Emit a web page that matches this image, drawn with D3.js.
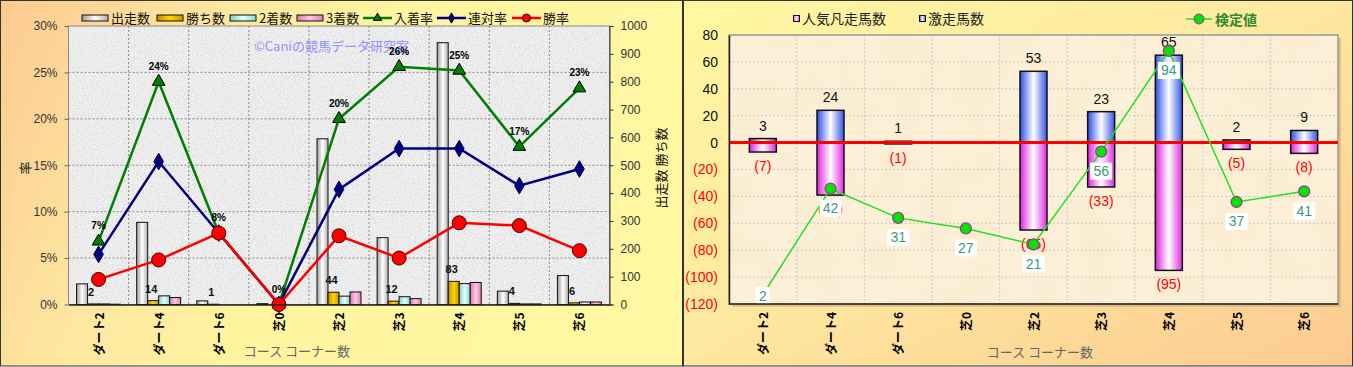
<!DOCTYPE html>
<html>
<head>
<meta charset="utf-8">
<script src="https://cdn.jsdelivr.net/npm/d3@7"></script>
<style>
  body { margin:0; background:#fff; }
  svg text { font-family: "Liberation Sans", "Noto Sans CJK JP", sans-serif; }
  .jp { font-family: "Noto Sans CJK JP", sans-serif; }
</style>
</head>
<body>
<script>
// コース別（コーナー数）成績
var categories = ["ダート2","ダート4","ダート6","芝0","芝2","芝3","芝4","芝5","芝6"];
var runners  = [74, 295, 13, 3, 595, 240, 940, 48, 104];   // 出走数
var wins     = [2, 14, 1, 0, 44, 12, 83, 4, 6];             // 勝ち数
var seconds  = [2, 31, 0, 0, 30, 28, 75, 2, 9];             // 2着数
var thirds   = [1, 25, 0, 0, 45, 21, 79, 2, 9];             // 3着数
var placeRate    = [6.8, 24.0, 7.7, 0, 20.0, 25.6, 25.2, 17.0, 23.3]; // 入着率
var quinellaRate = [5.4, 15.4, 7.7, 0, 12.4, 16.8, 16.8, 12.8, 14.6]; // 連対率
var winRate      = [2.7, 4.8, 7.7, 0, 7.4, 5.0, 8.8, 8.5, 5.8];       // 勝率
var rateTicks  = [0, 5, 10, 15, 20, 25, 30];
var countTicks = [0, 100, 200, 300, 400, 500, 600, 700, 800, 900, 1000];

// 右のグラフ
var upsetCount = [3, 24, 1, 0, 53, 23, 65, 2, 9];    // 激走馬数
var flopCount  = [7, 39, 1, 0, 65, 33, 95, 5, 8];    // 人気凡走馬数
var testValue  = [2, 42, 31, 27, 21, 56, 94, 37, 41]; // 検定値
var diffTicks  = [80, 60, 40, 20, 0, -20, -40, -60, -80, -100, -120];

var W = 1353, H = 367;
var svg = d3.select("body").append("svg").attr("width", W).attr("height", H);
var defs = svg.append("defs");

function lin(id, x2, y2, stops){
  var g = defs.append("linearGradient").attr("id", id)
    .attr("x1", 0).attr("y1", 0).attr("x2", x2).attr("y2", y2);
  stops.forEach(function(s){ g.append("stop").attr("offset", s[0]).attr("stop-color", s[1]); });
}
lin("bgL", 1, 0.25, [[0, "#fcca90"], [0.3, "#fee6a0"], [0.55, "#fff4a0"], [1, "#fff7a2"]]);
lin("bgR", 1, 1, [[0, "#fff8a2"], [0.45, "#fee9a0"], [1, "#fcca90"]]);
lin("gRun",   1, 0, [[0, "#9a9a9a"], [0.5, "#ffffff"], [1, "#b0b0b0"]]);
lin("gWin",   1, 0, [[0, "#c08a00"], [0.5, "#ffd800"], [1, "#c89400"]]);
lin("gSec",   1, 0, [[0, "#80cccc"], [0.5, "#e4ffff"], [1, "#8cd4d4"]]);
lin("gThi",   1, 0, [[0, "#dd77aa"], [0.5, "#ffc8e4"], [1, "#e080b4"]]);
lin("gUp",    1, 0, [[0, "#2d4fe8"], [0.5, "#ffffff"], [1, "#3555e8"]]);
lin("gDown",  1, 0, [[0, "#e020e0"], [0.5, "#ffffff"], [1, "#e028e0"]]);

// 御影石風テクスチャ
var fg = defs.append("filter").attr("id", "granite").attr("x", 0).attr("y", 0).attr("width", 1).attr("height", 1);
fg.append("feTurbulence").attr("type", "fractalNoise").attr("baseFrequency", 0.9).attr("numOctaves", 3).attr("seed", 4);
fg.append("feColorMatrix").attr("type", "matrix")
  .attr("values", "0.9 0 0 0 0.38  0.9 0 0 0 0.38  0.9 0 0 0 0.38  0 0 0 0 0.45");
// 羊皮紙風
var fp = defs.append("filter").attr("id", "parch").attr("x", 0).attr("y", 0).attr("width", 1).attr("height", 1);
fp.append("feTurbulence").attr("type", "fractalNoise").attr("baseFrequency", 0.025).attr("numOctaves", 4).attr("seed", 7);
fp.append("feColorMatrix").attr("type", "matrix")
  .attr("values", "0 0 0 0 0.93  0 0 0 0 0.80  0 0 0 0 0.58  1.2 0 0 0 -0.45");

// パネル背景
svg.append("rect").attr("x", 0.5).attr("y", 0.5).attr("width", 682).attr("height", 365.5)
  .attr("fill", "url(#bgL)").attr("stroke", "#333");
svg.append("rect").attr("x", 683.5).attr("y", 0.5).attr("width", 669).attr("height", 365.5)
  .attr("fill", "url(#bgR)").attr("stroke", "#333");

// ================= 左のグラフ =================
var L = {x0: 68.5, x1: 609.5, y0: 26, y1: 304.5};
var xL = d3.scaleBand().domain(categories).range([L.x0, L.x1]);
var yL = d3.scaleLinear().domain([0, 30]).range([L.y1, L.y0]);
var yL2 = d3.scaleLinear().domain([0, 1000]).range([L.y1, L.y0]);

var gl = svg.append("g");
gl.append("rect").attr("x", L.x0).attr("y", L.y0).attr("width", L.x1 - L.x0).attr("height", L.y1 - L.y0).attr("fill", "#ececec");
gl.append("rect").attr("x", L.x0).attr("y", L.y0).attr("width", L.x1 - L.x0).attr("height", L.y1 - L.y0).attr("filter", "url(#granite)");

// グリッド
gl.selectAll(".hg").data(rateTicks.slice(1, -1)).enter().append("line")
  .attr("x1", L.x0).attr("x2", L.x1).attr("y1", function(d){ return yL(d); }).attr("y2", function(d){ return yL(d); })
  .attr("stroke", "#8a8a8a").attr("stroke-dasharray", "2,2");
gl.selectAll(".vg").data(categories.slice(1)).enter().append("line")
  .attr("x1", function(d){ return xL(d); }).attr("x2", function(d){ return xL(d); })
  .attr("y1", L.y0).attr("y2", L.y1)
  .attr("stroke", "#8a8a8a").attr("stroke-dasharray", "2,2");
gl.append("rect").attr("x", L.x0).attr("y", L.y0).attr("width", L.x1 - L.x0).attr("height", L.y1 - L.y0)
  .attr("fill", "none").attr("stroke", "#888");

gl.append("text").attr("class", "jp").attr("x", 254).attr("y", 51).attr("font-size", 13)
  .attr("fill", "#9090ff").text("©Caniの競馬データ研究室");

// 棒
var barKeys = ["run", "win", "sec", "thi"];
var barData = [runners, wins, seconds, thirds];
var barFill = ["url(#gRun)", "url(#gWin)", "url(#gSec)", "url(#gThi)"];
var xSub = d3.scaleBand().domain(barKeys).range([-22, 22]);
barKeys.forEach(function(k, j){
  gl.selectAll(".b" + k).data(barData[j]).enter().append("rect")
    .attr("x", function(d, i){ return xL(categories[i]) + xL.bandwidth() / 2 + xSub(k); })
    .attr("y", function(d){ return yL2(d); })
    .attr("width", xSub.bandwidth())
    .attr("height", function(d){ return L.y1 - yL2(d); })
    .attr("fill", barFill[j]).attr("stroke", "#111").attr("stroke-width", 1);
});
// 勝ち数ラベル
wins.forEach(function(d, i){
  if (d <= 0) return;
  gl.append("text")
    .attr("x", xL(categories[i]) + xL.bandwidth() / 2 + xSub("win") + xSub.bandwidth() / 2 - 2)
    .attr("y", yL2(d) - 8)
    .attr("text-anchor", "middle").attr("font-size", 11).attr("font-weight", "bold").attr("fill", "#111")
    .text(d);
});

// 折れ線
function cx(i){ return xL(categories[i]) + xL.bandwidth() / 2; }
var lineL = d3.line().x(function(d, i){ return cx(i); }).y(function(d){ return yL(d); });
gl.append("path").attr("d", lineL(placeRate)).attr("fill", "none").attr("stroke", "#008000").attr("stroke-width", 2.5);
gl.append("path").attr("d", lineL(quinellaRate)).attr("fill", "none").attr("stroke", "#000080").attr("stroke-width", 2.5);
gl.append("path").attr("d", lineL(winRate)).attr("fill", "none").attr("stroke", "#ff0000").attr("stroke-width", 2.5);

gl.selectAll(".tri").data(placeRate).enter().append("path")
  .attr("d", d3.symbol().type(d3.symbolTriangle).size(70))
  .attr("transform", function(d, i){ return "translate(" + cx(i) + "," + yL(d) + ")"; })
  .attr("fill", "#008000").attr("stroke", "#000").attr("stroke-width", 1);
gl.selectAll(".dia").data(quinellaRate).enter().append("path")
  .attr("d", d3.symbol().type(d3.symbolDiamond).size(80))
  .attr("transform", function(d, i){ return "translate(" + cx(i) + "," + yL(d) + ")"; })
  .attr("fill", "#000080").attr("stroke", "#000040").attr("stroke-width", 1);
gl.selectAll(".cir").data(winRate).enter().append("circle")
  .attr("cx", function(d, i){ return cx(i); }).attr("cy", function(d){ return yL(d); }).attr("r", 7)
  .attr("fill", "#ff0000").attr("stroke", "#400").attr("stroke-width", 1);
gl.selectAll(".pl").data(placeRate).enter().append("text")
  .attr("x", function(d, i){ return cx(i); }).attr("y", function(d){ return yL(d) - 12; })
  .attr("text-anchor", "middle").attr("font-size", 10).attr("font-weight", "bold").attr("fill", "#000")
  .text(function(d){ return Math.round(d) + "%"; });

// 軸
var axL = gl.append("g").attr("transform", "translate(" + L.x0 + ",0)")
  .call(d3.axisLeft(yL).tickValues(rateTicks).tickFormat(function(d){ return d + "%"; }).tickSize(4).tickPadding(7));
axL.select(".domain").remove();
axL.selectAll("line").attr("stroke", "#666");
axL.selectAll("text").attr("font-size", 12).attr("fill", "#333");

var axR = gl.append("g").attr("transform", "translate(" + L.x1 + ",0)")
  .call(d3.axisRight(yL2).tickValues(countTicks).tickFormat(d3.format("d")).tickSize(4).tickPadding(7));
axR.select(".domain").attr("stroke", "#333");
axR.selectAll("line").attr("stroke", "#333");
axR.selectAll("text").attr("font-size", 12).attr("fill", "#333");

var axB = gl.append("g").attr("transform", "translate(0," + L.y1 + ")")
  .call(d3.axisBottom(xL).tickSize(0));
axB.select(".domain").attr("stroke", "#222").attr("stroke-width", 1.5);
axB.selectAll("text").attr("class", "jp").attr("font-size", 12).attr("font-weight", "bold").attr("fill", "#000")
  .attr("y", 0).attr("dy", 0).attr("text-anchor", "end")
  .attr("transform", "translate(5,8) rotate(-90)");

gl.append("text").attr("class", "jp").attr("transform", "translate(30,168) rotate(-90)")
  .attr("text-anchor", "middle").attr("font-size", 13).attr("fill", "#222").text("率");
gl.append("text").attr("class", "jp").attr("transform", "translate(666,168) rotate(-90)")
  .attr("text-anchor", "middle").attr("font-size", 13).attr("fill", "#111").text("出走数  勝ち数");
gl.append("text").attr("class", "jp").attr("x", 297).attr("y", 356)
  .attr("text-anchor", "middle").attr("font-size", 13).attr("fill", "#666").text("コース  コーナー数");

// 凡例
var legBars = [["出走数", "url(#gRun)", 82], ["勝ち数", "url(#gWin)", 157], ["2着数", "url(#gSec)", 230], ["3着数", "url(#gThi)", 297]];
legBars.forEach(function(l){
  gl.append("rect").attr("x", l[2]).attr("y", 15).attr("width", 26).attr("height", 6)
    .attr("fill", l[1]).attr("stroke", "#111");
  gl.append("text").attr("class", "jp").attr("x", l[2] + 29).attr("y", 23).attr("font-size", 13).attr("fill", "#111").text(l[0]);
});
var legLines = [["入着率", "#008000", 363, "tri"], ["連対率", "#000080", 437, "dia"], ["勝率", "#ff0000", 512, "cir"]];
legLines.forEach(function(l){
  gl.append("line").attr("x1", l[2]).attr("x2", l[2] + 29).attr("y1", 18).attr("y2", 18)
    .attr("stroke", l[1]).attr("stroke-width", 2.5);
  var mx = l[2] + 14.5;
  if (l[3] === "cir") {
    gl.append("circle").attr("cx", mx).attr("cy", 18).attr("r", 4).attr("fill", l[1]).attr("stroke", "#400");
  } else {
    gl.append("path").attr("d", d3.symbol().type(l[3] === "tri" ? d3.symbolTriangle : d3.symbolDiamond).size(30))
      .attr("transform", "translate(" + mx + ",18)").attr("fill", l[1]).attr("stroke", "#000");
  }
  gl.append("text").attr("class", "jp").attr("x", l[2] + 31).attr("y", 23).attr("font-size", 13).attr("fill", "#111").text(l[0]);
});

// ================= 右のグラフ =================
var R = {x0: 729, x1: 1338, y0: 35, y1: 304};
var xR = d3.scaleBand().domain(categories).range([R.x0, R.x1]);
var yR = d3.scaleLinear().domain([-120, 80]).range([R.y1, R.y0]);
var yR2 = d3.scaleLinear().domain([-1.5, 100]).range([R.y1, R.y0]);
var gr = svg.append("g");

gr.append("rect").attr("x", R.x0 + 3).attr("y", R.y0 + 3).attr("width", R.x1 - R.x0).attr("height", R.y1 - R.y0).attr("fill", "#c8a070").attr("opacity", 0.5);
gr.append("rect").attr("x", R.x0).attr("y", R.y0).attr("width", R.x1 - R.x0).attr("height", R.y1 - R.y0).attr("fill", "#fcf0d8");
gr.append("rect").attr("x", R.x0).attr("y", R.y0).attr("width", R.x1 - R.x0).attr("height", R.y1 - R.y0).attr("filter", "url(#parch)");

gr.selectAll(".hg").data(diffTicks.slice(1, -1)).enter().append("line")
  .attr("x1", R.x0).attr("x2", R.x1).attr("y1", function(d){ return yR(d); }).attr("y2", function(d){ return yR(d); })
  .attr("stroke", "#c8c8c8").attr("stroke-dasharray", "2,2");
gr.selectAll(".vg").data(categories.slice(1)).enter().append("line")
  .attr("x1", function(d){ return xR(d); }).attr("x2", function(d){ return xR(d); })
  .attr("y1", R.y0).attr("y2", R.y1)
  .attr("stroke", "#c8c8c8").attr("stroke-dasharray", "2,2");
gr.append("rect").attr("x", R.x0).attr("y", R.y0).attr("width", R.x1 - R.x0).attr("height", R.y1 - R.y0)
  .attr("fill", "none").attr("stroke", "#999").attr("stroke-width", 1.5);

function rx(i){ return xR(categories[i]) + xR.bandwidth() / 2; }
var bw = 27;
upsetCount.forEach(function(d, i){
  if (d > 0) {
    gr.append("rect").attr("x", rx(i) - bw / 2).attr("y", yR(d)).attr("width", bw).attr("height", yR(0) - yR(d))
      .attr("fill", "url(#gUp)").attr("stroke", "#111").attr("stroke-width", 1.5);
  }
  var f = flopCount[i];
  if (f > 0) {
    gr.append("rect").attr("x", rx(i) - bw / 2).attr("y", yR(0)).attr("width", bw).attr("height", yR(-f) - yR(0))
      .attr("fill", "url(#gDown)").attr("stroke", "#111").attr("stroke-width", 1.5);
  }
});
// ゼロ線
gr.append("line").attr("x1", R.x0).attr("x2", R.x1).attr("y1", yR(0)).attr("y2", yR(0))
  .attr("stroke", "#ff0000").attr("stroke-width", 3);

upsetCount.forEach(function(d, i){
  if (d > 0) gr.append("text").attr("x", rx(i)).attr("y", yR(d) - 8).attr("text-anchor", "middle")
    .attr("font-size", 14).attr("fill", "#111").text(d);
  var f = flopCount[i];
  if (f > 0) gr.append("text").attr("x", rx(i)).attr("y", yR(-f) + 19).attr("text-anchor", "middle")
    .attr("font-size", 14).attr("fill", "#ff0000").text("(" + f + ")");
});

// 検定値
var lineR = d3.line().x(function(d, i){ return rx(i); }).y(function(d){ return yR2(d); });
gr.append("path").attr("d", lineR(testValue)).attr("fill", "none").attr("stroke", "#22e022").attr("stroke-width", 1.5);
gr.selectAll(".tv").data(testValue).enter().append("circle")
  .attr("cx", function(d, i){ return rx(i); }).attr("cy", function(d){ return yR2(d); }).attr("r", 5.5)
  .attr("fill", "#00e600").attr("stroke", "#993399").attr("stroke-width", 1.2);
testValue.forEach(function(d, i){
  var cy = Math.min(yR2(d) + 19.5, R.y1 - 8.5);
  var tw = String(d).length * 8 + 6;
  gr.append("rect").attr("x", rx(i) - tw / 2).attr("y", cy - 8.5).attr("width", tw).attr("height", 17).attr("fill", "#fff");
  gr.append("text").attr("x", rx(i)).attr("y", cy + 5).attr("text-anchor", "middle")
    .attr("font-size", 14).attr("fill", "#3a9a78").text(d);
});

// 軸
var axRL = gr.append("g").attr("transform", "translate(" + R.x0 + ",0)")
  .call(d3.axisLeft(yR).tickValues(diffTicks).tickSize(0).tickPadding(11)
    .tickFormat(function(d){ return d < 0 ? "(" + (-d) + ")" : d; }));
axRL.select(".domain").attr("stroke", "#222").attr("stroke-width", 1.5);
axRL.selectAll("text").attr("font-size", 14).attr("fill", function(d){ return d < 0 ? "#ff0000" : "#111"; });
gr.append("line").attr("x1", R.x0).attr("x2", R.x1).attr("y1", R.y1).attr("y2", R.y1).attr("stroke", "#222").attr("stroke-width", 1.5);

var axRB = gr.append("g").attr("transform", "translate(0," + R.y1 + ")")
  .call(d3.axisBottom(xR).tickSize(0));
axRB.select(".domain").remove();
axRB.selectAll("text").attr("class", "jp").attr("font-size", 12).attr("font-weight", "bold").attr("fill", "#000")
  .attr("y", 0).attr("dy", 0).attr("text-anchor", "end")
  .attr("transform", "translate(5,8) rotate(-90)");
gr.append("text").attr("class", "jp").attr("x", 1040).attr("y", 357)
  .attr("text-anchor", "middle").attr("font-size", 13).attr("fill", "#666").text("コース  コーナー数");

// 凡例
gr.append("rect").attr("x", 793.5).attr("y", 15.5).attr("width", 6).attr("height", 6).attr("fill", "url(#gDown)").attr("stroke", "#111");
gr.append("text").attr("class", "jp").attr("x", 802).attr("y", 24).attr("font-size", 14).attr("fill", "#222").text("人気凡走馬数");
gr.append("rect").attr("x", 919.5).attr("y", 15.5).attr("width", 6).attr("height", 6).attr("fill", "url(#gUp)").attr("stroke", "#111");
gr.append("text").attr("class", "jp").attr("x", 928).attr("y", 24).attr("font-size", 14).attr("fill", "#222").text("激走馬数");
gr.append("line").attr("x1", 1186).attr("x2", 1212).attr("y1", 19).attr("y2", 19).attr("stroke", "#22e022").attr("stroke-width", 1.5);
gr.append("circle").attr("cx", 1199).attr("cy", 19).attr("r", 5).attr("fill", "#00e600").attr("stroke", "#993399");
gr.append("text").attr("class", "jp").attr("x", 1215).attr("y", 25).attr("font-size", 14).attr("font-weight", "bold")
  .attr("fill", "#2e8b2e").text("検定値");
</script>
</body>
</html>
